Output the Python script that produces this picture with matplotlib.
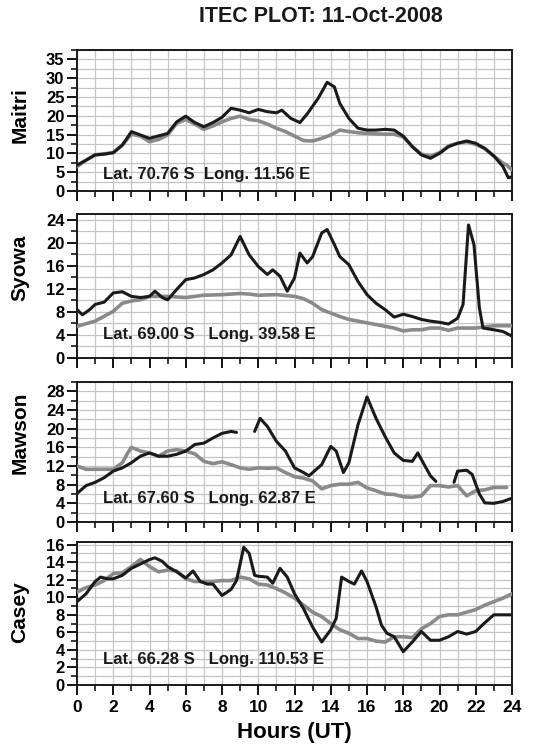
import matplotlib
matplotlib.use("Agg")
import matplotlib.pyplot as plt
from matplotlib.ticker import MultipleLocator

plt.rcParams['font.family'] = ['Liberation Sans', 'DejaVu Sans']
plt.rcParams['font.weight'] = 'bold'

# ---- data (hours UT, TEC) ----
maitri_obs_t = [0, 0.5, 1, 1.5, 2, 2.5, 3, 3.5, 4, 4.3, 5, 5.5, 6, 6.5, 7, 7.5, 8, 8.5, 9, 9.5,
                10, 10.5, 11, 11.3, 11.8, 12.3, 12.7, 13.3, 13.8, 14.2, 14.5, 15, 15.5, 16, 16.5,
                17, 17.5, 18, 18.5, 19, 19.5, 20, 20.5, 21, 21.5, 22, 22.5, 23, 23.5, 23.8, 24]
maitri_obs = [6.9, 8.2, 9.6, 9.8, 10.2, 12.2, 15.8, 14.9, 14.0, 14.4, 15.3, 18.4, 19.9, 18.2, 17.1,
              18.2, 19.6, 22.0, 21.5, 20.8, 21.7, 21.1, 20.8, 21.5, 19.3, 18.2, 20.5, 24.6, 28.9,
              27.7, 23.3, 19.3, 16.7, 16.2, 16.2, 16.4, 16.2, 14.6, 11.8, 9.6, 8.7, 10.0, 11.8,
              12.7, 13.3, 12.7, 11.3, 9.3, 6.5, 3.5, 3.8]
maitri_mod_t = [0, 0.5, 1, 2, 2.5, 3, 3.5, 4, 4.5, 5, 5.5, 6, 6.5, 7, 7.5, 8, 8.5, 9, 9.5, 10,
                10.5, 11, 11.5, 12, 12.5, 13, 13.5, 14, 14.5, 15, 15.5, 16, 17, 17.5, 18, 18.5,
                19, 19.5, 20, 20.5, 21, 21.5, 22, 22.5, 23, 23.5, 23.7, 24]
maitri_mod = [6.5, 8.2, 9.6, 10.2, 12.2, 15.1, 14.6, 13.1, 13.7, 14.9, 18.0, 19.0, 17.8, 16.4,
              17.3, 18.4, 19.3, 19.9, 19.0, 18.7, 17.8, 16.7, 15.8, 14.6, 13.4, 13.3, 14.0, 14.9,
              16.2, 15.8, 15.5, 15.3, 15.1, 15.1, 14.4, 11.8, 9.8, 9.3, 10.2, 12.0, 12.7, 13.1,
              12.4, 11.3, 9.3, 7.4, 6.9, 5.6]

syowa_obs_t = [0, 0.3, 0.7, 1, 1.5, 2, 2.5, 3, 3.5, 4, 4.3, 4.7, 5, 5.5, 6, 6.5, 7, 7.5, 8, 8.5,
               9, 9.5, 10, 10.5, 10.8, 11.2, 11.6, 12, 12.3, 12.7, 13, 13.5, 13.8, 14.2, 14.5,
               15, 15.5, 16, 16.5, 17, 17.5, 18, 18.5, 19, 19.5, 20, 20.5, 21, 21.3, 21.6, 21.9,
               22.2, 22.4, 23, 23.5, 24]
syowa_obs = [8.4, 7.5, 8.4, 9.3, 9.7, 11.3, 11.5, 10.7, 10.5, 10.7, 11.6, 10.5, 10.1, 11.9, 13.6,
             13.9, 14.5, 15.3, 16.5, 17.9, 21.1, 17.9, 15.9, 14.5, 15.3, 14.2, 11.6, 13.9, 18.2,
             16.5, 17.6, 21.7, 22.3, 19.7, 17.6, 16.2, 13.3, 11.0, 9.5, 8.4, 7.1, 7.6, 7.2, 6.7,
             6.4, 6.2, 5.9, 6.9, 9.3, 23.1, 19.7, 8.7, 5.2, 4.9, 4.6, 3.8]
syowa_mod_t = [0, 1, 2, 2.5, 3, 3.5, 4, 5, 6, 7, 8, 8.5, 9, 9.5, 10, 11, 12, 12.5, 13, 13.5, 14,
               14.5, 15, 16, 17, 17.5, 18, 18.5, 19, 19.5, 20, 20.5, 21, 22, 23, 24]
syowa_mod = [5.5, 6.4, 8.1, 9.5, 9.9, 10.1, 10.7, 10.7, 10.5, 10.9, 11.0, 11.1, 11.2, 11.1, 10.9,
             11.0, 10.7, 10.3, 9.5, 8.4, 7.8, 7.2, 6.7, 6.1, 5.5, 5.2, 4.7, 4.9, 4.9, 5.2, 5.2,
             4.8, 5.2, 5.2, 5.6, 5.6]

mawson_seg1_t = [0, 0.5, 1, 1.5, 2, 2.5, 3, 3.5, 4, 4.5, 5, 5.5, 6, 6.5, 7, 7.5, 8, 8.5, 8.8]
mawson_seg1 = [6.1, 7.8, 8.5, 9.5, 10.9, 11.6, 12.7, 14.1, 14.8, 14.1, 14.1, 14.5, 15.2, 16.6,
               16.9, 18.0, 19.0, 19.4, 19.2]
mawson_seg2_t = [9.8, 10.1, 10.5, 11, 11.5, 12, 12.5, 12.8, 13.5, 14, 14.3, 14.7, 15, 15.5, 16,
                 16.5, 17, 17.5, 18, 18.5, 18.8, 19.2, 19.5, 19.8]
mawson_seg2 = [19.4, 22.2, 20.5, 17.3, 15.2, 11.6, 10.6, 9.9, 12.3, 16.2, 15.2, 10.6, 12.7, 20.8,
               26.8, 22.2, 18.3, 14.8, 13.2, 13.0, 14.8, 12.0, 9.9, 8.7]
mawson_seg3_t = [20.8, 21, 21.5, 21.8, 22.2, 22.5, 23, 23.5, 24]
mawson_seg3 = [8.5, 10.9, 11.1, 10.2, 6.0, 4.1, 4.0, 4.4, 5.1]
mawson_mod_t = [0, 0.5, 1, 2, 2.5, 2.8, 3, 3.5, 4, 4.5, 5, 5.5, 6, 6.5, 7, 7.5, 8, 8.5, 9, 9.5,
                10, 10.5, 11, 11.5, 12, 12.5, 13, 13.5, 14, 14.5, 15, 15.5, 16, 16.5, 17, 17.5,
                18, 18.5, 19, 19.5, 20, 20.5, 21, 21.5, 22, 22.5, 23, 23.7]
mawson_mod = [12.0, 11.3, 11.3, 11.3, 12.7, 14.8, 16.0, 15.2, 14.8, 14.1, 15.2, 15.5, 15.2, 14.6,
              13.0, 12.5, 12.9, 12.3, 11.6, 11.3, 11.6, 11.5, 11.6, 10.6, 9.7, 9.4, 8.8, 7.1,
              7.8, 8.1, 8.1, 8.5, 7.3, 6.7, 6.0, 5.9, 5.4, 5.3, 5.6, 7.8, 7.8, 7.5, 7.8, 5.6,
              6.7, 6.9, 7.4, 7.4]

casey_obs_t = [0, 0.5, 1, 1.3, 1.7, 2, 2.5, 3, 3.5, 4, 4.3, 4.7, 5, 5.5, 6, 6.4, 6.8, 7.2, 7.5,
               8, 8.5, 8.8, 9.2, 9.5, 9.8, 10, 10.5, 10.8, 11.2, 11.6, 12, 12.5, 13, 13.5, 14,
               14.3, 14.6, 15, 15.3, 15.7, 16, 16.5, 16.8, 17.1, 17.5, 18, 18.5, 19, 19.5, 20,
               20.5, 21, 21.5, 22, 22.5, 23, 23.5, 24]
casey_obs = [9.5, 10.4, 11.8, 12.3, 12.1, 12.1, 12.5, 13.3, 13.8, 14.3, 14.5, 14.1, 13.5, 12.9,
             12.2, 13.0, 11.8, 11.5, 11.5, 10.2, 10.9, 11.9, 15.7, 15.0, 12.5, 12.4, 12.3, 11.6,
             13.3, 12.3, 10.4, 8.7, 6.6, 4.9, 6.3, 7.6, 12.3, 11.8, 11.5, 13.0, 11.8, 8.9, 6.8,
             5.9, 5.5, 3.8, 4.9, 6.1, 5.1, 5.1, 5.5, 6.1, 5.8, 6.1, 7.1, 8.0, 8.0, 8.0]
casey_mod_t = [0, 0.5, 1, 1.5, 2, 2.5, 3, 3.5, 4, 4.5, 5, 5.5, 6, 6.5, 7, 7.5, 8, 8.5, 9, 9.5,
               10, 10.5, 11, 11.5, 12, 12.5, 13, 13.5, 14, 14.5, 15, 15.5, 16, 16.5, 17, 17.5,
               18, 18.5, 19, 19.5, 20, 20.5, 21, 21.5, 22, 22.5, 23, 23.5, 24]
casey_mod = [10.6, 11.1, 11.4, 11.9, 12.7, 12.8, 13.5, 14.3, 13.5, 12.9, 13.1, 13.0, 12.1, 11.8,
             11.8, 11.8, 11.9, 11.9, 12.3, 12.1, 11.5, 11.4, 11.0, 10.5, 9.9, 9.1, 8.3, 7.8, 7.0,
             6.3, 5.9, 5.3, 5.3, 5.0, 4.9, 5.5, 5.5, 5.4, 6.4, 7.0, 7.8, 8.0, 8.0, 8.3, 8.6, 9.1,
             9.5, 9.9, 10.4]

stations = ['Maitri', 'Syowa', 'Mawson', 'Casey']
coords = ['Lat. 70.76 S  Long. 11.56 E', 'Lat. 69.00 S   Long. 39.58 E',
          'Lat. 67.60 S   Long. 62.87 E', 'Lat. 66.28 S   Long. 110.53 E']
ylims = [37.5, 25, 30, 16.3]
ymajor = [5, 4, 4, 2]

obs = [[(maitri_obs_t, maitri_obs)],
       [(syowa_obs_t, syowa_obs)],
       [(mawson_seg1_t, mawson_seg1), (mawson_seg2_t, mawson_seg2), (mawson_seg3_t, mawson_seg3)],
       [(casey_obs_t, casey_obs)]]
mod = [(maitri_mod_t, maitri_mod), (syowa_mod_t, syowa_mod),
       (mawson_mod_t, mawson_mod), (casey_mod_t, casey_mod)]

# panel boxes in pixels (top, bottom) of a 553x750 figure
W, H = 553, 750
boxes = [(50, 191), (214, 358), (382, 522), (542, 685)]
label_y = [0.54, 0.625, 0.636, 0.51]
text_y = [0.12, 0.16, 0.17, 0.175]

fig = plt.figure(figsize=(W / 100, H / 100), dpi=100)

for i in range(4):
    top, bot = boxes[i]
    ax = fig.add_axes([77 / W, 1 - bot / H, 435 / W, (bot - top) / H])

    t, v = mod[i]
    ax.plot(t, v, color='#8a8a8a', lw=2.6, solid_capstyle='round', zorder=3)
    for t, v in obs[i]:
        ax.plot(t, v, color='#1a1a1a', lw=2.2, solid_capstyle='round', zorder=4)

    ax.set_xlim(0, 24)
    ax.set_ylim(0, ylims[i])
    ax.xaxis.set_major_locator(MultipleLocator(2))
    ax.xaxis.set_minor_locator(MultipleLocator(1))
    ax.yaxis.set_major_locator(MultipleLocator(ymajor[i]))
    ax.yaxis.set_minor_locator(MultipleLocator(ymajor[i] / 2))
    ax.grid(True, which='both', color='#c4c4c4', lw=0.9, zorder=0)
    ax.set_axisbelow(True)

    ax.tick_params(which='major', direction='out', length=7, width=1.3, labelsize=12, pad=2)
    ax.tick_params(which='minor', direction='out', length=4, width=1.1)
    ax.tick_params(axis='x', which='major', labelsize=12.5, pad=4)
    for s in ax.spines.values():
        s.set_linewidth(1.4)
        s.set_color('#1a1a1a')
    if i < 3:
        ax.tick_params(axis='x', labelbottom=False)

    ax.set_ylabel(stations[i], fontsize=15, fontweight='bold')
    ax.yaxis.set_label_coords(-0.11, label_y[i])
    ax.text(0.06, text_y[i], coords[i], transform=ax.transAxes, fontsize=12,
            fontweight='bold', va='center', ha='left', color='#1a1a1a', zorder=5)

    if i == 3:
        ax.set_xlabel('Hours (UT)', fontsize=16, fontweight='bold', labelpad=5)

fig.text(321 / W, 1 - 16 / H, 'ITEC PLOT: 11-Oct-2008', ha='center', va='center',
         fontsize=15.5, fontweight='bold', color='#1a1a1a')

fig.savefig('out.png', dpi=100)
